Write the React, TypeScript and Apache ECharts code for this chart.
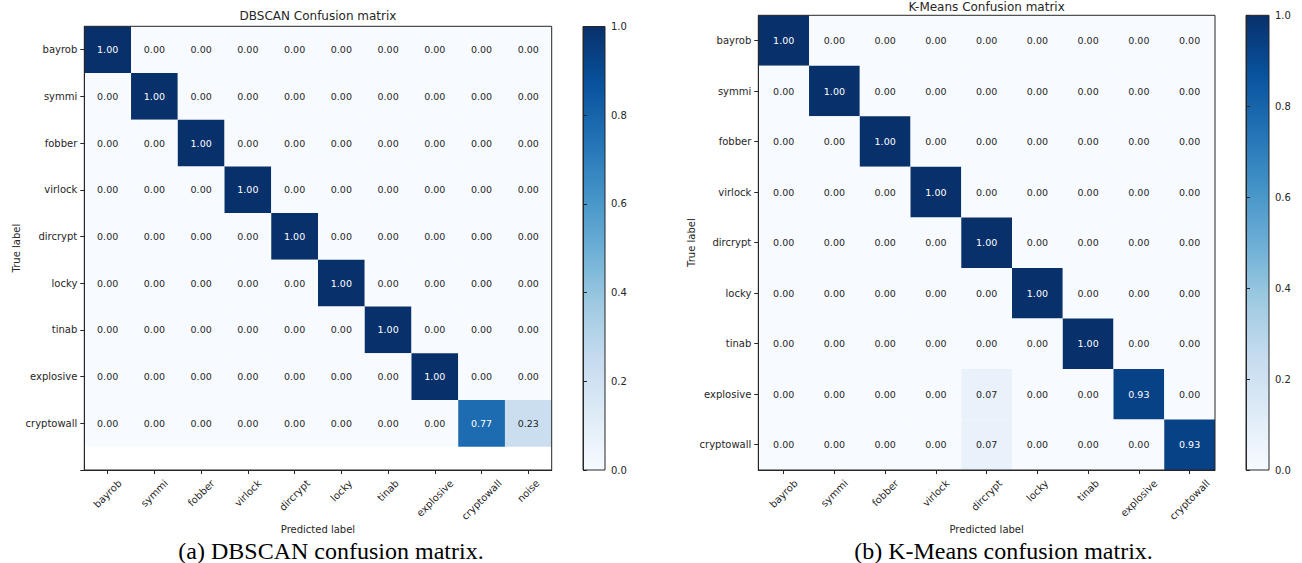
import React, { useEffect, useRef } from 'react';
import * as echarts from 'echarts';

// ---------- data ----------
const DBSCAN_TRUE = ['bayrob', 'symmi', 'fobber', 'virlock', 'dircrypt', 'locky', 'tinab', 'explosive', 'cryptowall'];
const DBSCAN_PRED = ['bayrob', 'symmi', 'fobber', 'virlock', 'dircrypt', 'locky', 'tinab', 'explosive', 'cryptowall', 'noise'];
const DBSCAN_MATRIX = [
  [1.0, 0, 0, 0, 0, 0, 0, 0, 0, 0],
  [0, 1.0, 0, 0, 0, 0, 0, 0, 0, 0],
  [0, 0, 1.0, 0, 0, 0, 0, 0, 0, 0],
  [0, 0, 0, 1.0, 0, 0, 0, 0, 0, 0],
  [0, 0, 0, 0, 1.0, 0, 0, 0, 0, 0],
  [0, 0, 0, 0, 0, 1.0, 0, 0, 0, 0],
  [0, 0, 0, 0, 0, 0, 1.0, 0, 0, 0],
  [0, 0, 0, 0, 0, 0, 0, 1.0, 0, 0],
  [0, 0, 0, 0, 0, 0, 0, 0, 0.77, 0.23],
];

const KMEANS_LABELS = ['bayrob', 'symmi', 'fobber', 'virlock', 'dircrypt', 'locky', 'tinab', 'explosive', 'cryptowall'];
const KMEANS_MATRIX = [
  [1.0, 0, 0, 0, 0, 0, 0, 0, 0],
  [0, 1.0, 0, 0, 0, 0, 0, 0, 0],
  [0, 0, 1.0, 0, 0, 0, 0, 0, 0],
  [0, 0, 0, 1.0, 0, 0, 0, 0, 0],
  [0, 0, 0, 0, 1.0, 0, 0, 0, 0],
  [0, 0, 0, 0, 0, 1.0, 0, 0, 0],
  [0, 0, 0, 0, 0, 0, 1.0, 0, 0],
  [0, 0, 0, 0, 0.07, 0, 0, 0.93, 0],
  [0, 0, 0, 0, 0.07, 0, 0, 0, 0.93],
];

const COLORBAR_RANGE = [[0, 1]];
const BLUES = ['#f7fbff', '#deebf7', '#c6dbef', '#9ecae1', '#6baed6', '#4292c6', '#2171b5', '#08519c', '#08306b'];

const TITLES = ['DBSCAN Confusion matrix', 'K-Means Confusion matrix'];
const CAPTIONS = ['(a) DBSCAN confusion matrix.', '(b) K-Means confusion matrix.'];

// ---------- helpers ----------
const FONT = '"DejaVu Sans", sans-serif';
const SERIF = '"Liberation Serif", "Times New Roman", serif';
const TXT = '#262626';
const AX = '#262626';

function toCells(m: number[][]) {
  const out: number[][] = [];
  m.forEach((row, r) => row.forEach((v, c) => out.push([c, r, v])));
  return out;
}

let ctx: CanvasRenderingContext2D | null = null;
function measure(s: string, size: number) {
  if (!ctx) ctx = document.createElement('canvas').getContext('2d');
  if (!ctx) return s.length * size * 0.6;
  ctx.font = `${size}px "DejaVu Sans"`;
  return ctx.measureText(s).width;
}

function predAxis(gridIndex: number, names: string[]) {
  const rich: any = {};
  names.forEach((n, i) => {
    const p = 0.5 * (measure(n, 10) + 10);
    rich['l' + i] = { fontSize: 10, fontFamily: FONT, color: TXT, padding: [p, p, 0, 0] };
  });
  const idx = names.map((_, i) => i);
  return {
    type: 'value',
    gridIndex,
    z: 5,
    min: -0.5,
    max: names.length - 0.5,
    splitLine: { show: false },
    axisLine: { show: true, onZero: false, lineStyle: { color: AX, width: 1 } },
    axisTick: { show: true, length: 4, customValues: idx, lineStyle: { color: AX } },
    axisLabel: {
      customValues: idx,
      rotate: 45,
      align: 'center',
      verticalAlign: 'middle',
      margin: 8,
      formatter: (v: number) => `{l${Math.round(v)}|${names[Math.round(v)]}}`,
      rich,
    },
    name: 'Predicted label',
    nameLocation: 'middle',
    nameGap: 54,
    nameMoveOverlap: false,
    nameTextStyle: { fontSize: 10, fontFamily: FONT, color: TXT },
  };
}

function trueAxis(gridIndex: number, names: string[], max: number, nameGap: number) {
  const ticks: number[] = [];
  for (let i = 0; i <= Math.floor(max); i++) ticks.push(i);
  return {
    type: 'value',
    gridIndex,
    z: 5,
    min: -0.5,
    max,
    inverse: true,
    splitLine: { show: false },
    axisLine: { show: true, onZero: false, lineStyle: { color: AX, width: 1 } },
    axisTick: { show: true, length: 4, customValues: ticks, lineStyle: { color: AX } },
    axisLabel: {
      customValues: ticks,
      margin: 7,
      fontSize: 10,
      fontFamily: FONT,
      color: TXT,
      formatter: (v: number) => names[Math.round(v)] ?? '',
    },
    name: 'True label',
    nameLocation: 'middle',
    nameGap,
    nameMoveOverlap: false,
    nameTextStyle: { fontSize: 10, fontFamily: FONT, color: TXT },
  };
}

function cellSeries(xAxisIndex: number, yAxisIndex: number, data: number[][]) {
  return {
    type: 'custom',
    xAxisIndex,
    yAxisIndex,
    z: 1,
    data,
    encode: { x: 0, y: 1 },
    renderItem: (_p: any, api: any) => {
      const x = api.value(0);
      const y = api.value(1);
      const v = api.value(2);
      const a = api.coord([x - 0.5, y - 0.5]);
      const b = api.coord([x + 0.5, y + 0.5]);
      const x0 = Math.min(a[0], b[0]);
      const y0 = Math.min(a[1], b[1]);
      const w = Math.abs(b[0] - a[0]);
      const h = Math.abs(b[1] - a[1]);
      return {
        type: 'group',
        children: [
          { type: 'rect', shape: { x: x0, y: y0, width: w, height: h }, style: { fill: api.visual('color'), stroke: null } },
          {
            type: 'text',
            style: {
              x: x0 + w / 2,
              y: y0 + h / 2,
              text: v.toFixed(2),
              align: 'center',
              verticalAlign: 'middle',
              fill: v > 0.5 ? '#ffffff' : TXT,
              fontSize: 9.5,
              fontFamily: FONT,
            },
          },
        ],
      };
    },
  };
}

function colorbarSeries(axisIndex: number) {
  const stops = BLUES.map((c, i) => ({ offset: 1 - i / (BLUES.length - 1), color: c }));
  stops.reverse();
  return {
    type: 'custom',
    xAxisIndex: axisIndex,
    yAxisIndex: axisIndex,
    z: 1,
    data: COLORBAR_RANGE,
    encode: { y: [0, 1] },
    renderItem: (_p: any, api: any) => {
      const a = api.coord([0, api.value(0)]);
      const b = api.coord([1, api.value(1)]);
      return {
        type: 'rect',
        shape: { x: Math.min(a[0], b[0]), y: Math.min(a[1], b[1]), width: Math.abs(b[0] - a[0]), height: Math.abs(b[1] - a[1]) },
        style: { fill: new echarts.graphic.LinearGradient(0, 0, 0, 1, stops), stroke: null },
      };
    },
  };
}

function colorbarAxes(index: number) {
  return {
    x: { type: 'value', gridIndex: index, min: 0, max: 1, show: false },
    y: {
      type: 'value',
      gridIndex: index,
      z: 5,
      min: 0,
      max: 1,
      interval: 0.2,
      position: 'right',
      splitLine: { show: false },
      axisLine: { show: true, lineStyle: { color: AX } },
      axisTick: { show: true, length: 4, lineStyle: { color: AX } },
      axisLabel: { margin: 6, fontSize: 10, fontFamily: FONT, color: TXT, formatter: (v: number) => v.toFixed(1) },
    },
  };
}

export default function App() {
  const ref = useRef<HTMLDivElement>(null);
  useEffect(() => {
    if (!ref.current) return;
    const chart = echarts.init(ref.current, undefined, { renderer: 'svg' });
    const cb0 = colorbarAxes(2);
    const cb1 = colorbarAxes(3);
    const border = { show: true, z: 5, borderColor: AX, borderWidth: 1, backgroundColor: 'transparent', outerBoundsMode: 'none' };
    chart.setOption({
      animation: false,
      backgroundColor: '#ffffff',
      grid: [
        { ...border, left: 84.3, top: 26.3, width: 467.4, height: 443.7 },
        { ...border, left: 758.3, top: 15.3, width: 456.7, height: 454.7 },
        { ...border, left: 583, top: 26.5, width: 22, height: 443.5 },
        { ...border, left: 1246, top: 15.3, width: 23, height: 454.7 },
      ],
      xAxis: [predAxis(0, DBSCAN_PRED), predAxis(1, KMEANS_LABELS), cb0.x, cb1.x],
      yAxis: [trueAxis(0, DBSCAN_TRUE, 9, 63), trueAxis(1, KMEANS_LABELS, 8.5, 62), cb0.y, cb1.y],
      visualMap: {
        type: 'continuous',
        show: false,
        min: 0,
        max: 1,
        dimension: 2,
        seriesIndex: [0, 1],
        inRange: { color: BLUES },
      },
      series: [
        cellSeries(0, 0, toCells(DBSCAN_MATRIX)),
        cellSeries(1, 1, toCells(KMEANS_MATRIX)),
        colorbarSeries(2),
        colorbarSeries(3),
      ],
      graphic: [
        { type: 'text', x: 318, y: 16, style: { text: TITLES[0], align: 'center', verticalAlign: 'middle', fontSize: 12, fontFamily: FONT, fill: TXT } },
        { type: 'text', x: 986.6, y: 6.5, style: { text: TITLES[1], align: 'center', verticalAlign: 'middle', fontSize: 12, fontFamily: FONT, fill: TXT } },
        { type: 'text', x: 331, y: 551, style: { text: CAPTIONS[0], align: 'center', verticalAlign: 'middle', fontSize: 24, fontFamily: SERIF, fill: '#000' } },
        { type: 'text', x: 1003.5, y: 551, style: { text: CAPTIONS[1], align: 'center', verticalAlign: 'middle', fontSize: 24, fontFamily: SERIF, fill: '#000' } },
      ],
    });
    return () => chart.dispose();
  }, []);
  return <div ref={ref} style={{ position: 'absolute', left: 0, top: 0, width: 1302, height: 563 }} />;
}
